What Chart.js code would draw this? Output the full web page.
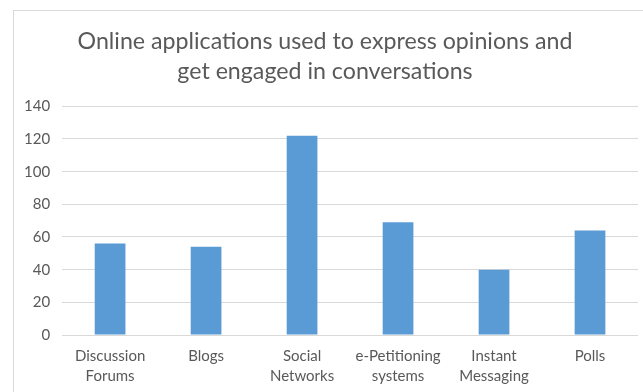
<!DOCTYPE html>
<html lang="en">
  <head>
    <title>Online applications</title>
    <style>
      html, body { margin: 0; padding: 0; background: #ffffff; }
      #wrap { width: 643px; height: 392px; position: relative; }
    </style>
  </head>
  <body>
    <div id="wrap"><canvas id="chart"></canvas></div>
    <script src="https://cdn.jsdelivr.net/npm/chart.js"></script>
    <script>
      let categories = [
        ["Discussion", "Forums"],
        "Blogs",
        ["Social", "Networks"],
        ["e-Petitioning", "systems"],
        ["Instant", "Messaging"],
        "Polls",
      ];
      let values = [56, 54, 122, 69, 40, 64];
      let titleLines = [
        "Online applications used to express opinions and",
        "get engaged in conversations",
      ];

      let textColor = "#595959";
      let fontFamily = "Lato, 'Open Sans', sans-serif";

      // grey frame around the chart, it runs off the right and bottom edges
      let frame = {
        id: "frame",
        beforeDraw: function (chart) {
          let ctx = chart.ctx;
          ctx.save();
          ctx.strokeStyle = "#d9d9d9";
          ctx.lineWidth = 1;
          ctx.strokeRect(13.5, 10.5, chart.width + 20, chart.height + 20);
          ctx.restore();
        },
      };

      new Chart(document.getElementById("chart"), {
        type: "bar",
        data: {
          labels: categories,
          datasets: [
            {
              data: values,
              backgroundColor: "#5b9bd5",
              barPercentage: 0.32,
              categoryPercentage: 1,
            },
          ],
        },
        options: {
          responsive: true,
          maintainAspectRatio: false,
          animation: false,
          layout: { padding: { left: 12, right: 5, top: 0, bottom: 2 } },
          plugins: {
            legend: { display: false },
            tooltip: { enabled: false },
            title: {
              display: true,
              text: titleLines,
              color: textColor,
              font: { family: fontFamily, size: 23.2, weight: "normal", lineHeight: 1.3 },
              padding: { top: 26, bottom: 20 },
            },
          },
          scales: {
            x: {
              grid: { display: false, drawTicks: false },
              border: { display: false },
              afterFit: function (scale) {
                scale.height = 55;
              },
              ticks: {
                color: textColor,
                font: { family: fontFamily, size: 15, lineHeight: 1.35 },
                padding: 11,
                maxRotation: 0,
                autoSkip: false,
              },
            },
            y: {
              min: 0,
              max: 140,
              ticks: {
                stepSize: 20,
                color: textColor,
                font: { family: fontFamily, size: 15 },
                padding: 12,
              },
              grid: { color: "#d9d9d9", drawTicks: false },
              border: { display: false },
            },
          },
        },
        plugins: [frame],
      });
    </script>
  </body>
</html>
